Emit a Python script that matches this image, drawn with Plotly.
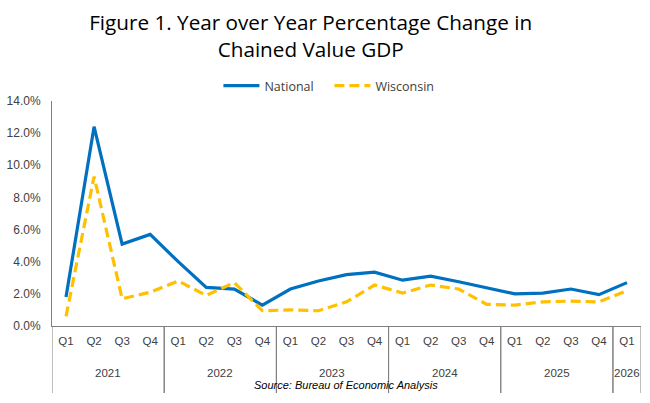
import plotly.graph_objects as go

years = ["2021"] * 4 + ["2022"] * 4 + ["2023"] * 4 + ["2024"] * 4 + ["2025"] * 4 + ["2026"]
quarters = ["Q1", "Q2", "Q3", "Q4"] * 5 + ["Q1"]

national = [1.8, 12.4, 5.1, 5.7, 4.0, 2.4, 2.3, 1.3, 2.3, 2.8, 3.2, 3.35,
            2.85, 3.1, 2.75, 2.4, 2.0, 2.05, 2.3, 1.95, 2.7]
wisconsin = [0.6, 9.3, 1.7, 2.1, 2.8, 1.9, 2.7, 0.95, 1.0, 0.95, 1.5, 2.55,
             2.05, 2.55, 2.3, 1.35, 1.3, 1.5, 1.55, 1.5, 2.2]

idx = list(range(len(quarters)))

fig = go.Figure()
fig.add_trace(go.Scatter(x=idx, y=national, name="National", mode="lines",
                         line=dict(color="#0070C0", width=3.2)))
fig.add_trace(go.Scatter(x=idx, y=wisconsin, name="Wisconsin", mode="lines",
                         line=dict(color="#FFC000", width=3.2, dash="10px,5px")))

fig.update_layout(
    width=650, height=403,
    margin=dict(l=52, r=9, t=101, b=77, autoexpand=False),
    paper_bgcolor="white", plot_bgcolor="white",
    font=dict(family="Liberation Sans, Arial", size=11, color="#404040"),
    title=dict(text="Figure 1. Year over Year Percentage Change in<br>Chained Value GDP",
               x=0.478, xanchor="center", y=0.925, yanchor="top",
               font=dict(family="Open Sans", size=20.7, color="#000000")),
    legend=dict(orientation="h", x=0.471, xanchor="center", y=1.0 + 15 / 225, yanchor="middle",
                itemwidth=36, entrywidth=60, entrywidthmode="pixels",
                font=dict(family="Open Sans", size=12.5, color="#404040")),
)
fig.update_xaxes(range=[-0.5, len(idx) - 0.5], tickvals=idx, ticktext=quarters,
                 showline=True, linecolor="#7f7f7f", linewidth=1, showgrid=False,
                 zeroline=False, ticks="", ticklabelstandoff=4,
                 tickfont=dict(size=11.5, color="#404040"))
fig.update_yaxes(range=[0, 14], dtick=2, tickformat=".1f", ticksuffix="%", showgrid=False,
                 showline=True, linecolor="#7f7f7f", linewidth=1, zeroline=False,
                 ticklabelstandoff=8, tickfont=dict(size=12, color="#404040"))

# year group labels and dividers under the quarter labels
groups = []
for i, yr in enumerate(years):
    if not groups or groups[-1][0] != yr:
        groups.append([yr, i, i])
    else:
        groups[-1][2] = i
for yr, first, last in groups:
    fig.add_annotation(text=yr, x=(first + last) / 2, xref="x", y=-47 / 225, yref="paper",
                       showarrow=False, yanchor="middle", font=dict(size=11.5, color="#404040"))
    for edge in (first - 0.5, last + 0.5):
        fig.add_shape(type="line", x0=edge, x1=edge, xref="x", y0=0, y1=-67 / 225, yref="paper",
                      line=dict(color="#7f7f7f", width=1))

fig.add_annotation(text="<i>Source: Bureau of Economic Analysis</i>", xref="paper", yref="paper",
                   x=(346 - 52) / 589, y=-59 / 225, xanchor="center", yanchor="middle",
                   showarrow=False, font=dict(size=11, color="#000000"))

fig.write_html("out.html", config={"displayModeBar": False},
               post_script="document.body.style.margin='0';")
